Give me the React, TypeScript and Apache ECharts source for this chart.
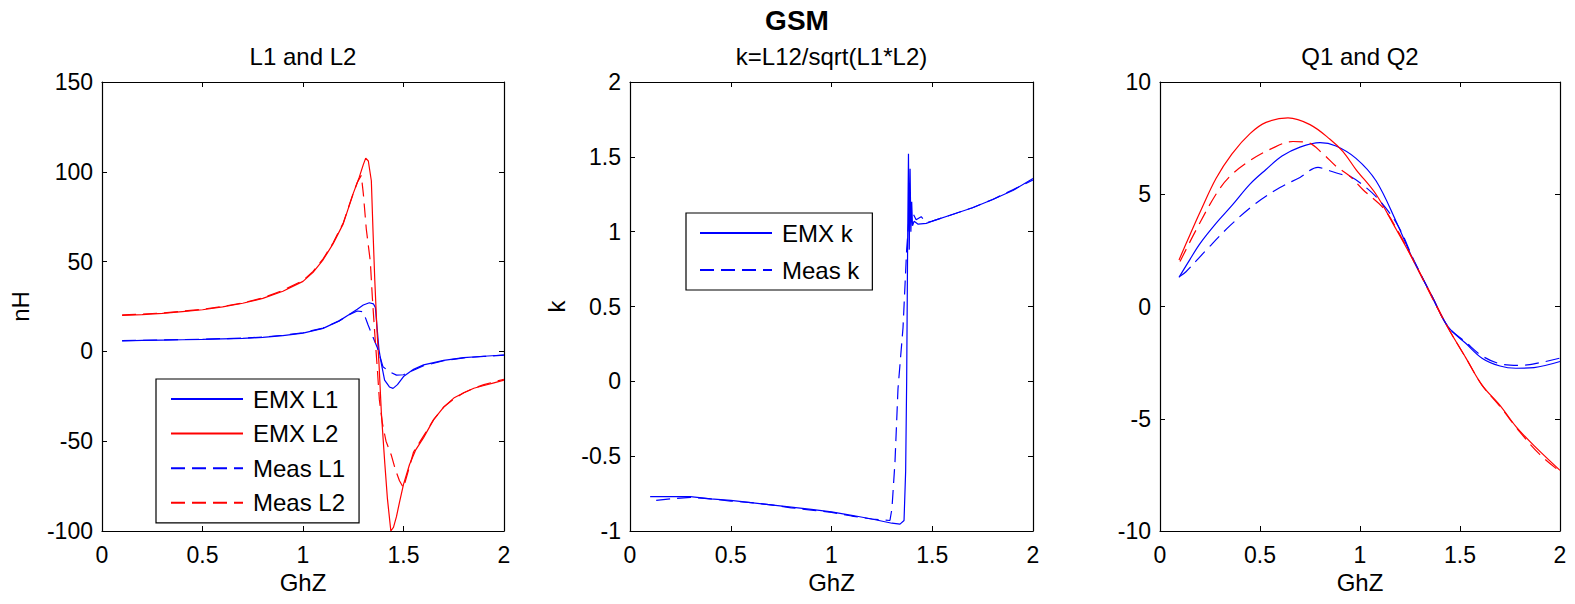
import React, { useEffect, useRef } from "react";
import * as echarts from "echarts";

// ---------- Panel 1: L1 and L2 (nH vs GHz) ----------
const emxL1X = [0.1, 0.2, 0.3, 0.4, 0.5, 0.6, 0.7, 0.8, 0.9, 1.0, 1.1, 1.18, 1.23, 1.27, 1.3, 1.33, 1.35, 1.36, 1.368, 1.378, 1.39, 1.406, 1.43, 1.448, 1.47, 1.5, 1.55, 1.6, 1.7, 1.8, 1.9, 2.0];
const emxL1Y = [5.8, 6.1, 6.3, 6.5, 6.7, 7.0, 7.3, 7.8, 8.8, 10.2, 12.8, 17, 20.5, 23.5, 25.8, 27.1, 26.5, 24.5, 14, 1, -7, -16, -19.8, -20.6, -18.5, -14, -10, -7.5, -5, -3.5, -2.7, -2];

const emxL2X = [0.1, 0.2, 0.3, 0.4, 0.5, 0.6, 0.7, 0.8, 0.9, 1.0, 1.05, 1.1, 1.15, 1.2, 1.25, 1.28, 1.3, 1.312, 1.325, 1.34, 1.348, 1.357, 1.368, 1.378, 1.39, 1.407, 1.42, 1.437, 1.45, 1.465, 1.48, 1.5, 1.53, 1.56, 1.6, 1.65, 1.7, 1.75, 1.8, 1.85, 1.9, 1.95, 2.0];
const emxL2Y = [20, 20.5, 21.2, 22.2, 23.2, 24.8, 26.8, 29.5, 33.5, 39, 44, 51, 60, 71, 88, 97, 104, 107.6, 106, 95, 68, 40, 12, -6.7, -34.5, -62.4, -82, -100, -98, -92, -84, -74, -63, -55, -48, -38, -31, -26, -23, -20.5, -19, -17.5, -16];

const measL1X = [0.1, 0.2, 0.3, 0.4, 0.5, 0.6, 0.7, 0.8, 0.9, 1.0, 1.1, 1.18, 1.23, 1.27, 1.3, 1.323, 1.348, 1.37, 1.398, 1.43, 1.465, 1.5, 1.55, 1.6, 1.7, 1.8, 1.9, 2.0];
const measL1Y = [6, 6.2, 6.4, 6.6, 6.8, 7.1, 7.4, 8, 9, 10.4, 13, 17, 20.5, 22.5, 22, 15, 8, 2, -8.6, -11.3, -13.2, -13, -10.5, -8, -5.2, -3.6, -2.8, -2.1];

const measL2X = [0.1, 0.2, 0.3, 0.4, 0.5, 0.6, 0.7, 0.8, 0.9, 1.0, 1.05, 1.1, 1.15, 1.2, 1.25, 1.27, 1.29, 1.3, 1.315, 1.335, 1.345, 1.357, 1.37, 1.38, 1.395, 1.413, 1.44, 1.46, 1.48, 1.5, 1.52, 1.55, 1.6, 1.65, 1.7, 1.75, 1.8, 1.85, 1.9, 1.95, 2.0];
const measL2Y = [20.3, 20.8, 21.4, 22.4, 23.5, 25, 27, 29.8, 34, 39.5, 44.5, 51.5, 60.5, 71.5, 88, 94, 98, 88, 68, 50, 30, 10, -10, -27, -40, -50, -58, -66, -72, -76, -68, -56, -47, -38, -31, -26.5, -23, -20.5, -18.5, -17, -15.5];

// ---------- Panel 2: k = L12/sqrt(L1*L2) ----------
const emxKX = [0.1, 0.2, 0.3, 0.4, 0.5, 0.6, 0.7, 0.8, 0.9, 1.0, 1.1, 1.2, 1.3, 1.34, 1.36, 1.368, 1.373, 1.378, 1.382, 1.386, 1.39, 1.394, 1.398, 1.402, 1.41, 1.43, 1.47, 1.5, 1.6, 1.7, 1.8, 1.9, 2.0];
const emxKY = [-0.77, -0.77, -0.77, -0.785, -0.795, -0.81, -0.825, -0.84, -0.855, -0.872, -0.895, -0.92, -0.948, -0.954, -0.93, -0.6, 0.0, 0.95, 1.52, 0.88, 1.42, 1.0, 1.2, 1.04, 1.07, 1.05, 1.055, 1.07, 1.115, 1.16, 1.215, 1.275, 1.355];

const measKX = [0.13, 0.2, 0.3, 0.4, 0.5, 0.6, 0.7, 0.8, 0.9, 1.0, 1.1, 1.2, 1.29, 1.3, 1.315, 1.33, 1.355, 1.373, 1.385, 1.405, 1.42, 1.445, 1.47, 1.5, 1.6, 1.7, 1.8, 1.9, 2.0];
const measKY = [-0.795, -0.785, -0.775, -0.785, -0.8, -0.81, -0.825, -0.845, -0.86, -0.875, -0.9, -0.92, -0.93, -0.85, -0.54, -0.05, 0.36, 0.88, 1.1, 1.12, 1.08, 1.1, 1.06, 1.07, 1.115, 1.16, 1.215, 1.28, 1.345];

// ---------- Panel 3: Q1 and Q2 ----------
const emxQ1X = [0.095, 0.15, 0.2, 0.28, 0.36, 0.45, 0.53, 0.61, 0.7, 0.8, 0.88, 0.98, 1.08, 1.18, 1.27, 1.36, 1.44, 1.53, 1.61, 1.7, 1.78, 1.87, 2.0];
const emxQ1Y = [1.3, 2.1, 2.8, 3.7, 4.5, 5.45, 6.1, 6.7, 7.1, 7.3, 7.15, 6.6, 5.6, 3.8, 2.0, 0.45, -0.9, -1.65, -2.3, -2.65, -2.75, -2.72, -2.45];

const emxQ2X = [0.095, 0.15, 0.2, 0.28, 0.36, 0.45, 0.53, 0.64, 0.75, 0.85, 0.915, 0.98, 1.08, 1.18, 1.27, 1.36, 1.44, 1.53, 1.61, 1.7, 1.78, 1.87, 2.0];
const emxQ2Y = [2.07, 3.2, 4.2, 5.7, 6.8, 7.7, 8.2, 8.4, 8.1, 7.45, 6.9, 6.1, 5.0, 3.45, 2.0, 0.45, -0.95, -2.3, -3.5, -4.4, -5.35, -6.2, -7.3];

const measQ1X = [0.1, 0.13, 0.23, 0.35, 0.48, 0.6, 0.7, 0.79, 0.83, 0.9, 0.95, 1.03, 1.1, 1.19, 1.27, 1.36, 1.44, 1.53, 1.61, 1.7, 1.8, 1.9, 2.0];
const measQ1Y = [1.35, 1.55, 2.5, 3.6, 4.6, 5.3, 5.75, 6.2, 6.1, 5.9, 5.8, 5.3, 4.7, 3.6, 2.05, 0.45, -0.9, -1.6, -2.2, -2.55, -2.62, -2.5, -2.3];

const measQ2X = [0.1, 0.18, 0.28, 0.35, 0.45, 0.55, 0.665, 0.74, 0.815, 0.88, 0.95, 1.015, 1.115, 1.19, 1.27, 1.36, 1.44, 1.53, 1.61, 1.7, 1.8, 1.9, 2.0];
const measQ2Y = [2.0, 3.4, 5.0, 5.8, 6.5, 7.0, 7.35, 7.3, 6.8, 6.25, 5.8, 5.2, 4.4, 3.35, 2.0, 0.4, -0.95, -2.3, -3.5, -4.45, -5.6, -6.6, -7.35];

// ---------- Axes / labels ----------
const xRange = { min: 0, max: 2, interval: 0.5 };
const yRanges = [
  { min: -100, max: 150, interval: 50 },
  { min: -1, max: 2, interval: 0.5 },
  { min: -10, max: 10, interval: 5 },
];
const panelTitles = ["L1 and L2", "k=L12/sqrt(L1*L2)", "Q1 and Q2"];
const yNames = ["nH", "k", ""];
const xName = "GhZ";
const mainTitle = "GSM";

const FONT = '"Liberation Sans", Arial, Helvetica, sans-serif';
const BLUE = "#0000ff";
const RED = "#ff0000";
const DASH = [14, 7];

const grids = [
  { left: 102, top: 82, width: 402, height: 449 },
  { left: 630, top: 82, width: 403, height: 449 },
  { left: 1160, top: 82, width: 400, height: 449 },
];

function pairs(xs: number[], ys: number[]) {
  return xs.map((x, i) => [x, ys[i]]);
}

function makeSeries(name: string, xs: number[], ys: number[], color: string, dashed: boolean, panel: number) {
  return {
    name,
    type: "line",
    xAxisIndex: panel * 2,
    yAxisIndex: panel * 2,
    data: pairs(xs, ys),
    symbol: "none",
    showSymbol: false,
    smooth: panel === 2 ? 0.35 : false,
    lineStyle: { color, width: 1.2, type: dashed ? DASH : "solid" },
    itemStyle: { color },
    z: dashed ? 3 : 2,
  };
}

export default function App() {
  const ref = useRef<HTMLDivElement>(null);
  useEffect(() => {
    if (!ref.current) return;
    const chart = echarts.init(ref.current, undefined, { renderer: "svg" });

    const axisLine = { show: true, onZero: false, lineStyle: { color: "#000", width: 1.2 } };
    const axisTick = { show: true, inside: true, length: 5, lineStyle: { color: "#000", width: 1 } };

    const xAxes: any[] = [];
    const yAxes: any[] = [];
    grids.forEach((_, p) => {
      xAxes.push({
        type: "value", gridIndex: p, position: "bottom", ...xRange,
        axisLine, axisTick, splitLine: { show: false },
        axisLabel: { show: true, margin: 12, color: "#000", fontSize: 23, fontFamily: FONT },
        name: xName, nameLocation: "middle", nameGap: 37,
        nameTextStyle: { color: "#000", fontSize: 24, fontFamily: FONT },
      });
      xAxes.push({
        type: "value", gridIndex: p, position: "top", ...xRange,
        axisLine, axisTick, splitLine: { show: false }, axisLabel: { show: false },
      });
      yAxes.push({
        type: "value", gridIndex: p, position: "left", ...yRanges[p],
        axisLine, axisTick, splitLine: { show: false },
        axisLabel: { show: true, margin: 9, color: "#000", fontSize: 23, fontFamily: FONT },
        name: yNames[p], nameLocation: "middle", nameGap: p === 0 ? 70 : 62,
        nameTextStyle: { color: "#000", fontSize: 24, fontFamily: FONT },
      });
      yAxes.push({
        type: "value", gridIndex: p, position: "right", ...yRanges[p],
        axisLine, axisTick, splitLine: { show: false }, axisLabel: { show: false },
      });
    });

    const legendCommon = {
      orient: "vertical",
      itemWidth: 72,
      itemHeight: 26,
      borderColor: "#000",
      borderWidth: 1.2,
      backgroundColor: "#fff",
      borderRadius: 0,
      itemStyle: { opacity: 0, borderWidth: 0 },
      textStyle: { color: "#000", fontSize: 24, fontFamily: FONT, lineHeight: 26, padding: [0, 0, 0, 5] },
      selectedMode: false,
    };

    chart.setOption({
      animation: false,
      backgroundColor: "#fff",
      grid: grids.map((g) => ({ ...g, show: false })),
      xAxis: xAxes,
      yAxis: yAxes,
      legend: [
        {
          ...legendCommon,
          data: ["EMX L1", "EMX L2", "Meas L1", "Meas L2"],
          left: 156, top: 379, itemGap: 8.6,
          padding: [7, 14, 7, 14],
        },
        {
          ...legendCommon,
          data: ["EMX k", "Meas k"],
          left: 686, top: 213, itemGap: 11,
          padding: [7, 13, 7, 13],
        },
      ],
      graphic: [
        {
          type: "text", x: 797, y: 20,
          style: { text: mainTitle, fontSize: 28, fontWeight: "bold", fontFamily: FONT, fill: "#000", align: "center", verticalAlign: "middle" },
        },
        ...panelTitles.map((t, p) => ({
          type: "text", x: grids[p].left + grids[p].width / 2, y: 56,
          style: { text: t, fontSize: 24, fontFamily: FONT, fill: "#000", align: "center", verticalAlign: "middle" },
        })),
      ],
      series: [
        makeSeries("EMX L1", emxL1X, emxL1Y, BLUE, false, 0),
        makeSeries("EMX L2", emxL2X, emxL2Y, RED, false, 0),
        makeSeries("Meas L1", measL1X, measL1Y, BLUE, true, 0),
        makeSeries("Meas L2", measL2X, measL2Y, RED, true, 0),
        makeSeries("EMX k", emxKX, emxKY, BLUE, false, 1),
        makeSeries("Meas k", measKX, measKY, BLUE, true, 1),
        makeSeries("EMX Q1", emxQ1X, emxQ1Y, BLUE, false, 2),
        makeSeries("EMX Q2", emxQ2X, emxQ2Y, RED, false, 2),
        makeSeries("Meas Q1", measQ1X, measQ1Y, BLUE, true, 2),
        makeSeries("Meas Q2", measQ2X, measQ2Y, RED, true, 2),
      ],
    });
    return () => chart.dispose();
  }, []);

  return (
    <div
      ref={ref}
      style={{ position: "absolute", left: 0, top: 0, width: 1575, height: 604, background: "#fff" }}
    />
  );
}
